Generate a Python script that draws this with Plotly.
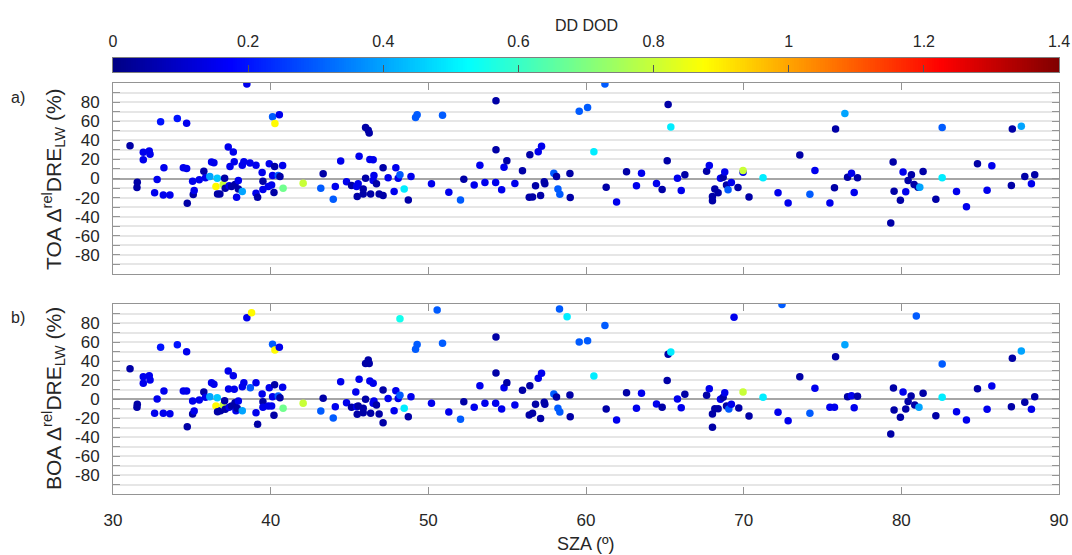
import numpy as np
import plotly.graph_objects as go

# ---------------- data ----------------
N, B, M, L, C, G, Y, YY = 0.05, 0.15, 0.3, 0.4, 0.5, 0.68, 0.8, 0.88

toa_sza = [31.08, 31.54, 31.52, 31.92, 31.92, 32.3, 32.35, 32.64, 32.8, 33.02, 33.19, 33.23, 33.61, 34.08,
           34.46, 34.67, 34.67, 34.71, 35.05, 35.09, 35.15, 35.47, 35.76, 35.87, 36.14, 36.25, 36.4, 36.53,
           36.61, 36.63, 36.78, 36.99, 37.08, 37.12, 37.31, 37.37, 37.42, 37.52, 37.63, 37.69, 37.74, 37.84,
           37.95, 37.95, 38.2, 38.2, 38.3, 38.49, 38.69, 39.07, 39.07, 39.17, 39.46, 39.51, 39.51, 39.85,
           39.91, 40.06, 40.12, 40.21, 40.25, 40.27, 40.12, 40.55, 40.48, 40.59, 40.76, 40.79, 42.06, 43.18,
           43.33, 43.97, 44.1, 44.44, 44.81, 45.13, 45.45, 45.49, 45.61, 45.55, 45.87, 45.87, 46.02, 46.19,
           46.25, 46.02, 46.29, 46.5, 46.34, 46.55, 46.5, 46.71, 46.88, 47.13, 47.13, 47.45, 47.83, 47.94,
           48.09, 48.2, 48.47, 48.73, 48.9, 49.19, 49.29, 50.2, 50.9, 51.3, 52.04, 52.25, 52.91, 53.27,
           53.59, 54.27, 54.29, 54.29, 54.65, 54.8, 54.98, 55.49, 55.97, 56.4, 56.61, 56.44, 56.8, 56.97,
           57.18, 57.12, 57.35, 57.39, 57.96, 58.13, 58.22, 58.34, 58.98, 59.0, 59.57, 60.1, 60.5, 61.2,
           61.28, 61.94, 62.57, 63.2, 63.52, 64.47, 64.83, 65.15, 65.21, 65.38, 65.8, 66.04, 66.27, 67.65,
           67.82, 68.02, 68.02, 68.17, 68.38, 68.53, 68.7, 68.8, 68.91, 69.01, 69.22, 69.64, 69.96, 69.96,
           70.34, 71.23, 72.18, 72.82, 73.56, 74.2, 74.52, 75.47, 75.76, 75.83, 76.42, 76.59, 76.84, 77.01,
           77.22, 79.33, 79.48, 79.54, 79.94, 80.11, 80.28, 80.43, 80.64, 80.81, 81.06, 81.17, 81.38, 82.19,
           82.59, 82.59, 83.5, 84.13, 84.83, 85.74, 85.44, 86.98, 87.04, 87.61, 87.83, 88.25, 88.46]
toa_val = [34.4, -3.9, -9.5, 27.4, 19.7, 28.8, 25.3, -15, -1, 59.3, -17.2, 11.2, -17.2, 62.8,
           11.2, 10.5, 57.9, -26, -2.8, -16.8, -12.6, -1.4, 7.7, 0.7, 2.1, 17.2, 16.5, -8.4,
           0.3, -16.1, -16.1, -6.3, 0.3, -10.2, 33, -7.7, 12.6, -8.4, 27.7, 17.5, -6.3, -19.6,
           -2.1, -10.9, -13.7, 14, 17.5, 98.9, 16.1, 14, -15.5, -19.6, 6.3, -2.8, -11.6, -8.4,
           15.4, -6.7, 64.6, -14.7, 12.6, 57.6, 3.2, 66.7, 3.2, 2.1, 13.7, -10.2, -4.9, -10.2,
           4.9, -21.8, -8.4, 18.2, -3.5, -7.4, -8.4, -18.9, 23.2, -5.6, -10.9, -16.1, 53.3, 50.5,
           47.7, 0.3, 20, 19.7, -16.1, 3.2, -2.1, -5.6, -16.1, 11.2, -17.9, 0.7, -13.7, 11.2,
           0.3, 3.9, -10.9, -22.5, 2.1, 63.9, 66.7, -5.6, 66.3, -14.4, -22.5, -0.7, -6.7, 14,
           -4.2, -4.2, 81.4, 30.2, -11.9, 11.9, 18.6, -5.3, 8.1, -19.6, -19.3, 24.9, -7.7, 28.1,
           33.7, -17.9, -3.5, -5.6, 5.6, 2.1, -10.9, -16.5, 5.3, -20, 70.5, 74.4, 28.1, 98.9,
           -9.1, -24.6, 7, -7.7, 5.6, -5.3, -11.6, 18.6, 77.5, 54, 0.3, -12.6, 3.9, 7.7,
           13.7, -18.9, -23.2, -10.9, -15, 0.3, 1.4, 6.7, -6.7, -11.9, -4.2, -9.5, 6.5, 8.4,
           -19.3, 0.7, -15, -25.6, 24.6, -16.5, 8.4, -25.6, -9.8, 51.9, 68.1, 1.4, 5.6, -14.7,
           0.7, -46.7, 17.2, -13.3, -22.8, 6.7, -14, -2.1, 3.9, -6.3, -9.1, -9.1, 7.4, -21.8,
           53.3, 0.7, -13.7, -29.5, 15.4, 13.3, -12.3, -7.4, 51.9, 54.7, 2.1, -5.6, 3.9]
toa_dod = [N, N, N, B, B, B, B, B, B, 0.2, B, B, B, 0.2,
           B, B, B, N, B, N, B, B, N, B, L, B, B, YY,
           0.45, N, N, Y, N, N, B, B, B, N, B, B, N, B,
           B, N, L, B, B, B, B, B, B, N, B, N, B, B,
           B, B, M, N, N, YY, B, B, M, N, B, G, Y, M,
           N, M, B, B, B, N, B, N, B, B, N, N, N, N,
           N, N, B, B, N, B, B, N, N, N, N, B, B, B,
           B, M, C, N, B, M, M, B, M, B, M, N, B, B,
           B, B, N, N, B, B, N, B, N, N, N, N, N, B,
           B, N, N, N, M, N, M, M, N, N, M, M, C, M,
           N, B, N, B, B, B, N, N, N, C, B, B, N, N,
           B, N, N, N, N, B, N, B, N, M, B, N, B, Y,
           N, C, B, B, N, M, B, B, N, N, L, N, B, B,
           N, N, N, N, N, B, B, N, N, N, N, L, N, N,
           M, C, B, B, N, B, B, N, N, L, N, B, N]

boa_sza = [31.08, 31.54, 31.52, 31.92, 31.92, 32.3, 32.35, 32.64, 32.8, 33.02, 33.19, 33.23, 33.61, 34.08,
           34.46, 34.67, 34.67, 34.71, 35.05, 35.05, 35.15, 35.47, 35.76, 35.87, 36.14, 36.25, 36.4, 36.53,
           36.61, 36.63, 36.82, 36.99, 37.08, 37.12, 37.31, 37.37, 37.33, 37.52, 37.63, 37.69, 37.74, 37.8,
           37.95, 37.88, 38.2, 38.2, 38.3, 38.49, 38.79, 38.71, 39.07, 39.07, 39.17, 39.46, 39.51, 39.51,
           39.85, 39.91, 40.06, 40.12, 40.21, 40.25, 40.27, 40.12, 40.55, 40.48, 40.59, 40.76, 40.79, 42.06,
           43.18, 43.33, 43.97, 44.1, 44.44, 44.81, 45.13, 45.49, 45.61, 45.45, 45.4, 45.55, 45.87, 45.87,
           46.02, 46.19, 46.25, 46.02, 46.29, 46.5, 46.34, 46.55, 46.5, 46.71, 46.88, 47.13, 47.13, 47.45,
           47.83, 47.94, 48.09, 48.2, 48.2, 48.47, 48.73, 48.9, 49.19, 49.29, 50.2, 50.56, 50.9, 51.3,
           52.04, 52.25, 52.91, 53.27, 53.59, 54.27, 54.29, 54.29, 54.65, 54.8, 54.98, 55.49, 55.97, 56.4,
           56.61, 56.44, 56.8, 56.97, 57.18, 57.12, 57.35, 57.39, 57.96, 58.13, 58.22, 58.34, 58.32, 58.8,
           58.98, 59.0, 59.57, 60.1, 60.5, 61.2, 61.28, 61.94, 62.57, 63.2, 63.52, 64.47, 64.83, 65.15,
           65.21, 65.38, 65.8, 66.04, 66.27, 67.65, 67.82, 68.02, 68.02, 68.17, 68.38, 68.53, 68.7, 68.8,
           68.91, 69.06, 69.22, 69.39, 69.69, 69.96, 70.34, 71.23, 72.18, 72.43, 72.82, 73.56, 74.2, 74.52,
           75.47, 75.76, 75.83, 76.42, 76.59, 76.84, 77.01, 77.22, 79.33, 79.5, 79.54, 79.94, 80.11, 80.28,
           80.43, 80.62, 80.85, 81.12, 80.95, 81.38, 82.19, 82.59, 82.59, 83.5, 84.13, 84.83, 85.74, 85.44,
           86.98, 87.04, 87.61, 87.83, 88.25, 88.46]
boa_val = [31.9, -5.6, -8.8, 23.5, 16.5, 24.6, 20, -15.1, 0, 54.4, -15.1, 8.4, -15.4, 57.2,
           8.4, 8.4, 49.8, -29.1, -2.1, -15.8, -12.6, -1.1, 7.4, 1.8, 2.5, 17.2, 15.4, -7.4,
           1.4, -13.3, -12.3, -6.3, -1.8, -10.8, 29.5, -8.8, 10.5, -7.4, 24.6, 10.2, -3.9, -12.3,
           -2.1, -9.8, -12.3, 13, 17.2, 85.6, 90.8, 11.9, 17.2, -14.4, -26.6, 5.3, -2.8, -8.8,
           -7.4, 11.9, -7.4, 57.6, -17.2, 15.1, 51.6, 2.5, 54.4, 3.2, 1.4, 12.3, -9.8, -4.6,
           -12.6, 0.7, -20, -8.1, 18.2, -3.9, -8.8, -16.1, 20.7, -8.1, 7.4, -7.4, -9.8, -14.4,
           37.5, 41, 37.5, -0.3, 18.9, 16.5, -15.1, -2.1, -4.6, -6.3, -15.8, 9.5, -24.9, 0.4,
           -12.3, 8.8, 0.4, 84.6, 3.9, -9.8, -18.6, 2.5, 52.3, 57.5, -4.6, 93.7, 58.6, -13.7,
           -21.4, -2.8, -8.8, 14, -4.6, -4.6, 65.3, 27.4, -10.5, 11.9, 17.2, -6.3, 9.1, -16.8,
           -15.1, 14, -5.6, 21.8, 27, -20.4, -3.5, -5.6, 5.3, 2.1, -9.8, -13.7, 94.7, 86.7,
           4.2, -18.6, 60, 61.4, 24.2, 77.5, -10.5, -22.1, 6.7, -9.8, 6, -5.3, -8.8, 19.6,
           47, 49.5, 0, -9.1, 4.9, 3.9, 10.9, -15.8, -29.8, -10.2, -10.2, -0.3, 1.8, 6.7,
           -7.4, -10.5, -5.6, 86, -9.5, 7.4, -17.9, 1.8, -14, 99.6, -22.8, 23.5, -15.1, 11.2,
           -8.8, -8.8, 44.6, 57.2, 2.5, 3.5, -9.1, 2.8, -36.8, 11.6, -11.6, -19.3, 7.4, -10.5,
           -2.5, 3.2, -6.3, -8.8, 87.4, 6, -17.5, 36.8, 1.8, -13.3, -22.1, 10.9, 13.7, -10.8,
           -8.1, 42.8, 50.5, -3.5, -10.8, 2.5]
boa_dod = [N, N, N, B, B, B, B, B, B, 0.2, B, B, B, 0.2,
           B, B, B, N, B, N, B, B, N, B, L, B, B, YY,
           0.45, N, N, Y, N, N, B, B, B, N, B, B, N, B,
           B, N, L, B, B, B, YY, M, B, B, N, B, N, B,
           B, B, B, M, N, N, YY, B, B, M, N, B, G, Y,
           M, N, M, B, B, B, N, N, B, B, B, N, N, N,
           N, N, N, N, B, B, N, B, B, N, N, N, N, B,
           B, B, B, 0.55, M, C, N, B, M, M, B, M, M, B,
           M, N, B, B, B, B, N, N, B, B, N, B, N, N,
           N, N, N, B, B, N, N, N, M, N, M, M, M, C,
           N, N, M, M, C, M, N, B, N, B, B, B, N, N,
           N, C, B, B, N, N, B, N, N, N, N, B, N, B,
           N, M, B, B, N, Y, N, C, B, M, B, N, M, B,
           B, B, N, L, N, B, B, N, N, N, N, N, B, N,
           N, N, N, L, M, N, N, M, C, B, B, N, B, B,
           N, N, L, N, B, N]

ytick_vals = list(range(-100, 101, 10))
ytick_text = [str(v) if (v % 20 == 0 and abs(v) <= 80) else "" for v in ytick_vals]
xtick_vals = [30, 40, 50, 60, 70, 80, 90]
cb_ticks = [0, 0.2, 0.4, 0.6, 0.8, 1, 1.2, 1.4]
cb_text = ["0", "0.2", "0.4", "0.6", "0.8", "1", "1.2", "1.4"]

# ---------------- figure ----------------
jet = [[0.0, "rgb(0,0,132)"], [0.125, "rgb(0,0,255)"], [0.375, "rgb(0,255,255)"],
       [0.625, "rgb(255,255,0)"], [0.875, "rgb(255,0,0)"], [1.0, "rgb(128,0,0)"]]
CMIN, CMAX = 0, 1.4
FONT = "Liberation Sans, Arial, sans-serif"
TXT = "#262626"
FRAME = "#949494"

fig = go.Figure()
fig.add_trace(go.Scatter(x=toa_sza, y=toa_val, mode="markers", xaxis="x", yaxis="y",
                         marker=dict(size=7.5, color=toa_dod, colorscale=jet, cmin=CMIN, cmax=CMAX,
                                     line=dict(width=0)), showlegend=False))
fig.add_trace(go.Scatter(x=boa_sza, y=boa_val, mode="markers", xaxis="x2", yaxis="y2",
                         marker=dict(size=7.5, color=boa_dod, colorscale=jet, cmin=CMIN, cmax=CMAX,
                                     line=dict(width=0)), showlegend=False))
cb_x = np.linspace(CMIN, CMAX, 400)
fig.add_trace(go.Heatmap(x=cb_x, y=[0], z=[cb_x], colorscale=jet, zmin=CMIN, zmax=CMAX,
                         showscale=False, xaxis="x3", yaxis="y3", hoverinfo="skip"))
fig.add_trace(go.Scatter(x=[CMIN], y=[0], xaxis="x4", yaxis="y3", mode="markers",
                         marker=dict(opacity=0), showlegend=False, hoverinfo="skip"))

H = 555.0
def dom(top_px, bot_px):
    return [(H - bot_px) / H, (H - top_px) / H]

common_x = dict(range=[30, 90], tickvals=xtick_vals, ticks="inside", ticklen=7, tickcolor=FRAME,
                showline=True, linecolor=FRAME, linewidth=1, mirror="ticks", showgrid=False,
                zeroline=False, tickfont=dict(size=17, color=TXT, family=FONT))
common_y = dict(range=[-100, 100], tickvals=ytick_vals, ticktext=ytick_text, ticks="inside",
                ticklen=7, tickcolor=FRAME, showline=True, linecolor=FRAME, linewidth=1,
                mirror="ticks", showgrid=True, gridcolor="#e6e6e6", gridwidth=1.5,
                zeroline=True, zerolinecolor="#a6a6a6", zerolinewidth=1.5,
                tickfont=dict(size=17, color=TXT, family=FONT), ticklabelstandoff=9)

fig.update_layout(
    width=1072, height=555,
    margin=dict(l=113, r=13, t=0, b=0),
    paper_bgcolor="white", plot_bgcolor="white",
    font=dict(family=FONT, color=TXT),
    xaxis=dict(domain=[0, 1], anchor="y", showticklabels=False, **common_x),
    yaxis=dict(domain=dom(83, 274), anchor="x", **common_y),
    xaxis2=dict(domain=[0, 1], anchor="y2", showticklabels=True, ticklabelstandoff=11, **common_x),
    yaxis2=dict(domain=dom(304, 494), anchor="x2", **common_y),
    xaxis3=dict(domain=[0, 1], anchor="y3", range=[CMIN, CMAX], side="top", tickvals=cb_ticks,
                ticktext=cb_text, ticks="", showline=True, linecolor="#7f7f7f", mirror=True,
                showgrid=False, zeroline=False, tickfont=dict(size=16, color=TXT, family=FONT),
                ticklabelstandoff=4),
    xaxis4=dict(overlaying="x3", anchor="y3", side="bottom", range=[CMIN, CMAX], tickvals=cb_ticks,
                showticklabels=False, ticks="inside", ticklen=7, tickcolor="#555555",
                showgrid=False, zeroline=False, showline=False),
    yaxis3=dict(domain=dom(58, 72), anchor="x3", showticklabels=False, ticks="", showgrid=False,
                zeroline=False, showline=True, linecolor="#7f7f7f", mirror=True, fixedrange=True),
    annotations=[
        dict(text="DD DOD", xref="paper", yref="paper", x=0.5, y=(H - 26) / H, showarrow=False,
             xanchor="center", yanchor="middle", font=dict(size=16, color=TXT, family=FONT)),
        dict(text="a)", xref="paper", yref="paper", x=(18 - 113) / 946, y=(H - 97) / H, showarrow=False,
             xanchor="center", yanchor="middle", font=dict(size=16, color=TXT, family=FONT)),
        dict(text="b)", xref="paper", yref="paper", x=(18 - 113) / 946, y=(H - 318) / H, showarrow=False,
             xanchor="center", yanchor="middle", font=dict(size=16, color=TXT, family=FONT)),
        dict(text="TOA \u0394<sup>rel</sup>DRE<sub>LW</sub> (%)", xref="paper", yref="paper",
             x=(53 - 113) / 946, y=(H - 179) / H, textangle=-90, showarrow=False,
             xanchor="center", yanchor="middle", font=dict(size=21, color=TXT, family=FONT)),
        dict(text="BOA \u0394<sup>rel</sup>DRE<sub>LW</sub> (%)", xref="paper", yref="paper",
             x=(53 - 113) / 946, y=(H - 399) / H, textangle=-90, showarrow=False,
             xanchor="center", yanchor="middle", font=dict(size=21, color=TXT, family=FONT)),
        dict(text="SZA (\u00ba)", xref="paper", yref="paper", x=0.5, y=(H - 544) / H, showarrow=False,
             xanchor="center", yanchor="middle", font=dict(size=18, color=TXT, family=FONT)),
    ],
)

fig.write_html("out.html")
